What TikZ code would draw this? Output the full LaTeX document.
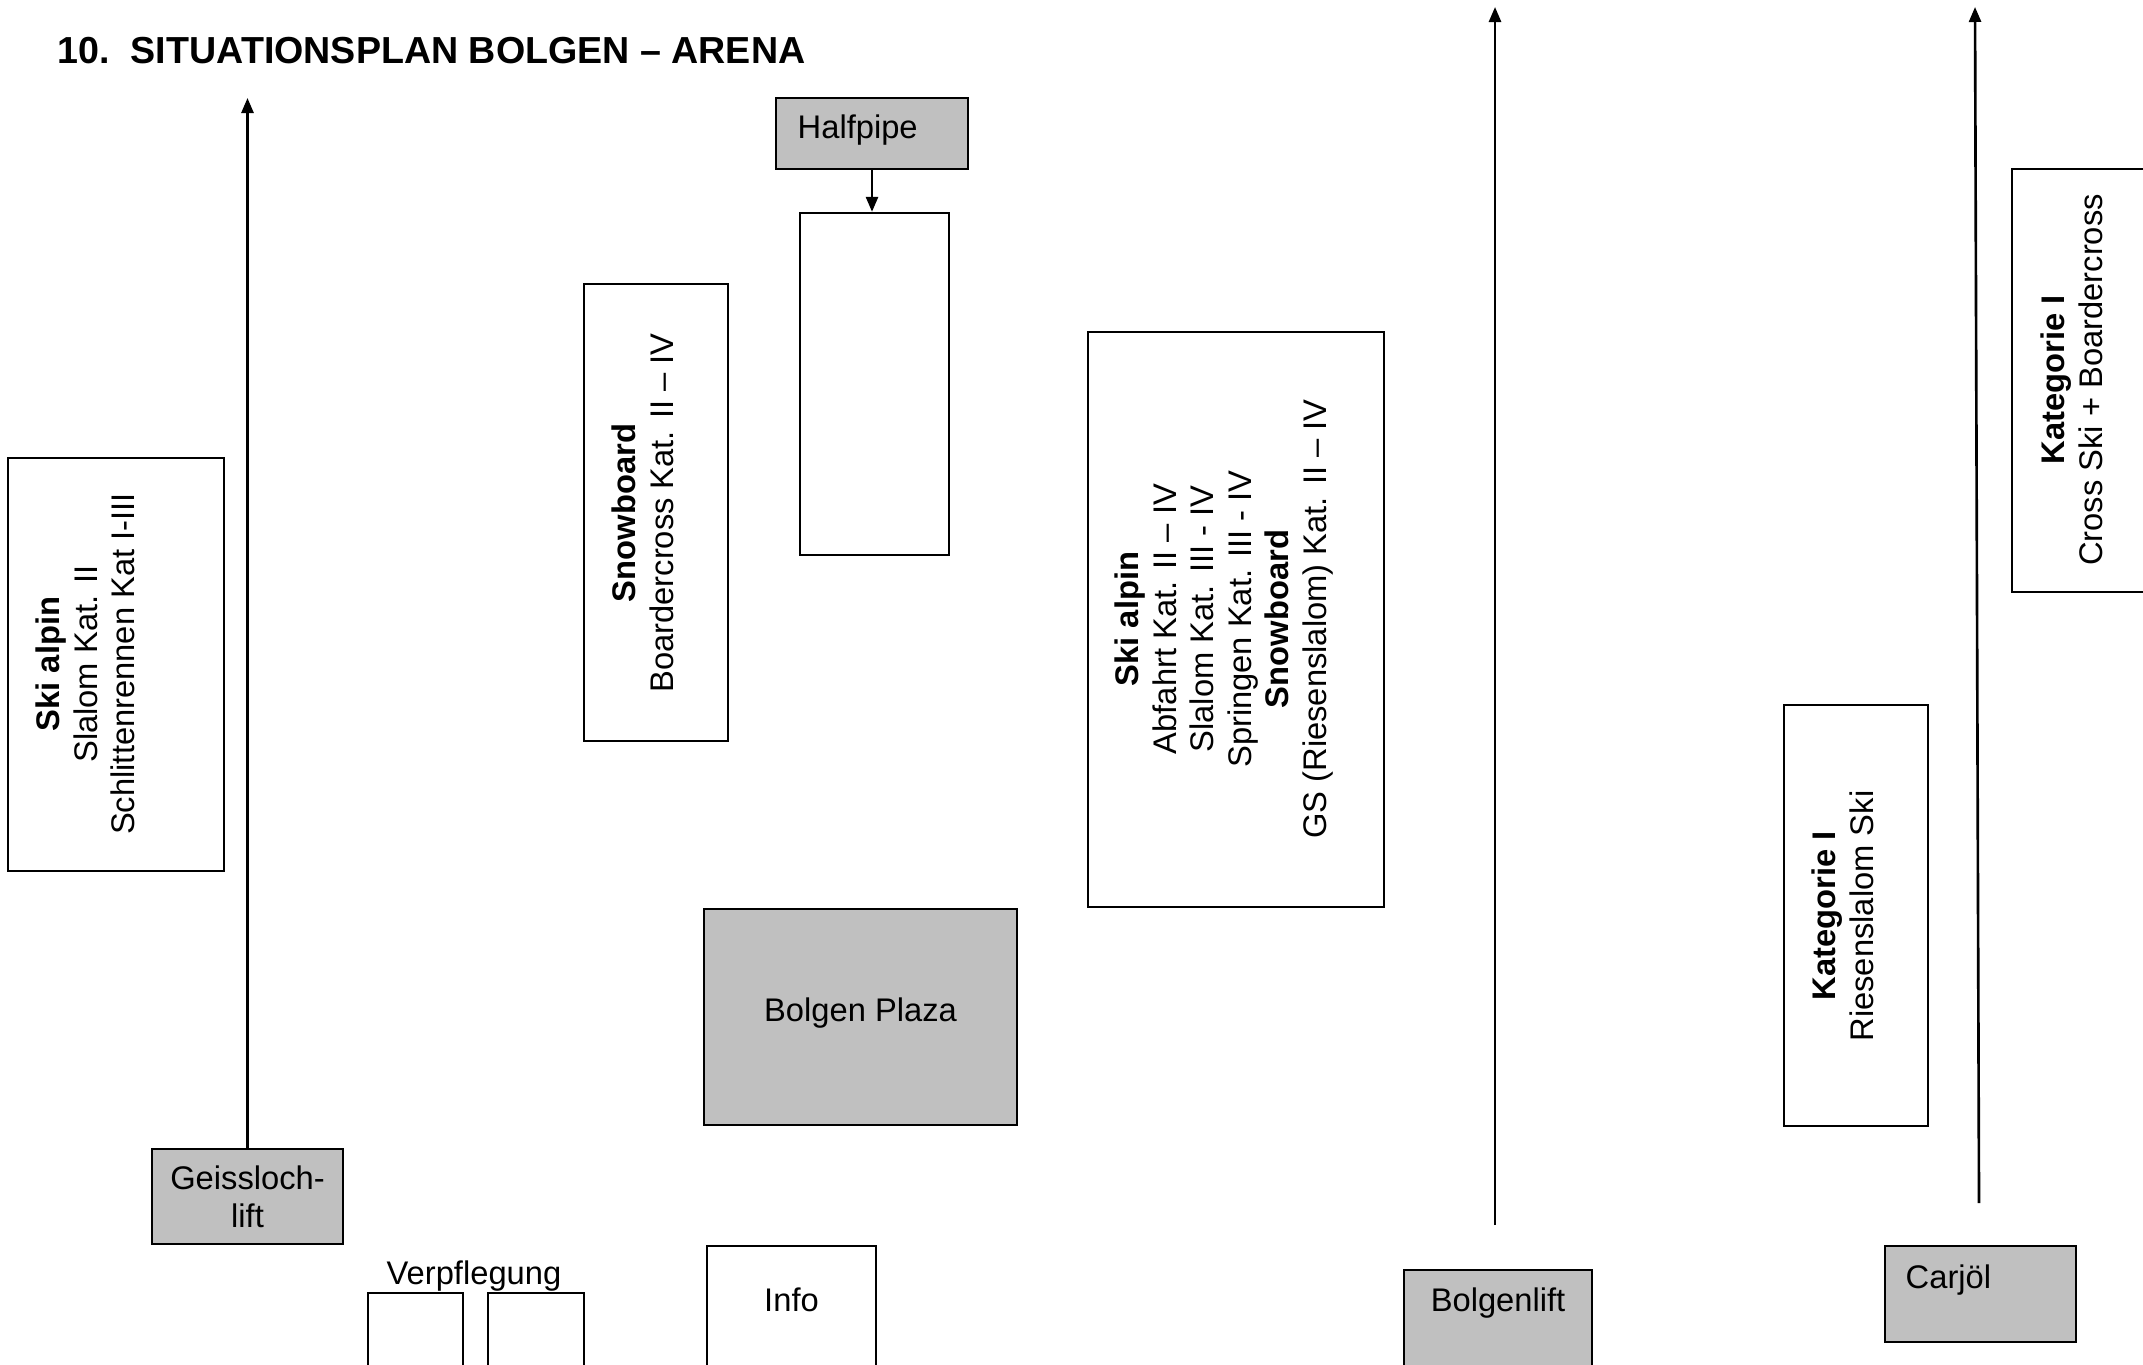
\documentclass[tikz,border=0pt]{standalone}
\usepackage{fontspec}
\setmainfont{Liberation Sans}
\usetikzlibrary{arrows.meta,positioning}
\definecolor{liftgrey}{HTML}{C0C0C0}

\begin{document}
\begin{tikzpicture}[x=0.01cm,y=-0.01cm,
	area/.style={draw,line width=0.6pt,inner sep=0pt},
	greyarea/.style={area,fill=liftgrey},
	txt/.style={font=\fontsize{9.3}{10.7}\selectfont,align=center,inner sep=0pt},
	vtxt/.style={txt,rotate=90},
	lift/.style={line width=0.75pt,-{Triangle[length=1.5mm,width=1.2mm]}}]
	\clip (0,0) rectangle (2143,1364);
	\node[anchor=base west,inner sep=0pt,font=\fontsize{10.7}{13}\selectfont\bfseries] (title) at (57,64) {10.\ \ SITUATIONSPLAN BOLGEN – ARENA};

	% lifts and buildings
	\node[greyarea,txt,minimum width=1.91cm,minimum height=0.95cm] (geiss) at (247.5,1196.5) {Geissloch-\\lift};
	\node[greyarea,minimum width=1.92cm,minimum height=0.71cm] (halfpipe) at (872,133.5) {};
	\node[txt,anchor=west] (halfpipetxt) at (797,130) {Halfpipe};
	\node[area,minimum width=1.49cm,minimum height=3.42cm] (pipe) at (874.5,384) {};
	\node[greyarea,minimum width=3.13cm,minimum height=2.16cm] (plaza) at (860.5,1017) {};
	\node[txt] (plazatxt) at (860.5,1013) {Bolgen Plaza};
	\node[txt] (verpf) at (474,1276) {Verpflegung};
	\node[area,minimum width=0.95cm,minimum height=1.07cm] (verpfa) at (415.5,1346.5) {};
	\node[area,minimum width=0.96cm,minimum height=1.07cm] (verpfb) at (536,1346.5) {};
	\node[area,minimum width=1.69cm,minimum height=1.54cm] (info) at (791.5,1323) {};
	\node[txt] (infotxt) at (791.5,1300) {Info};
	\node[greyarea,minimum width=1.88cm,minimum height=1.30cm] (bolgenlift) at (1498,1335) {};
	\node[txt] (bolgentxt) at (1498,1303) {Bolgenlift};
	\node[greyarea,minimum width=1.91cm,minimum height=0.96cm] (carjol) at (1980.5,1294) {};
	\node[txt,anchor=west] (carjoltxt) at (1905,1280) {Carjöl};

	% pistes
	\node[area,minimum width=2.16cm,minimum height=4.13cm] (skileft) at (116,664.5) {};
	\node[vtxt] (skilefttxt) at (85.5,664) {\textbf{Ski alpin}\\Slalom Kat. II\\Schlittenrennen Kat I-III};
	\node[area,minimum width=1.44cm,minimum height=4.57cm] (snow) at (656,512.5) {};
	\node[vtxt] (snowtxt) at (643,513) {\textbf{Snowboard}\\Boardercross Kat. II – IV};
	\node[area,minimum width=2.96cm,minimum height=5.75cm] (skibig) at (1236,619.5) {};
	\node[vtxt] (skibigtxt) at (1224,619) {\textbf{Ski alpin}\\Abfahrt Kat. II – IV\\Slalom Kat. III - IV\\Springen Kat. III - IV\\\textbf{Snowboard}\\GS (Riesenslalom) Kat. II – IV};
	\node[area,minimum width=1.44cm,minimum height=4.21cm] (riesen) at (1856,915.5) {};
	\node[vtxt] (riesentxt) at (1843,916) {\textbf{Kategorie I}\\Riesenslalom Ski};
	\node[area,minimum width=1.60cm,minimum height=4.23cm] (cross) at (2092,380.5) {};
	\node[vtxt] (crosstxt) at (2072,380) {\textbf{Kategorie I}\\Cross Ski + Boardercross};

	\coordinate (geisstop) at (247,98);
	\coordinate (bolgenfoot) at (1495,1225);
	\coordinate (bolgentop) at (1495,7);
	\coordinate (carjolfoot) at (1979,1203);
	\coordinate (carjoltop) at (1975,7);
	\draw[lift] (geiss.north) -- (geiss.north |- geisstop);
	\draw[lift] (halfpipe.south) -- (halfpipe.south |- pipe.north);
	\draw[lift] (bolgenfoot) -- (bolgentop);
	\draw[lift] (carjolfoot) -- (carjoltop);
\end{tikzpicture}
\end{document}
